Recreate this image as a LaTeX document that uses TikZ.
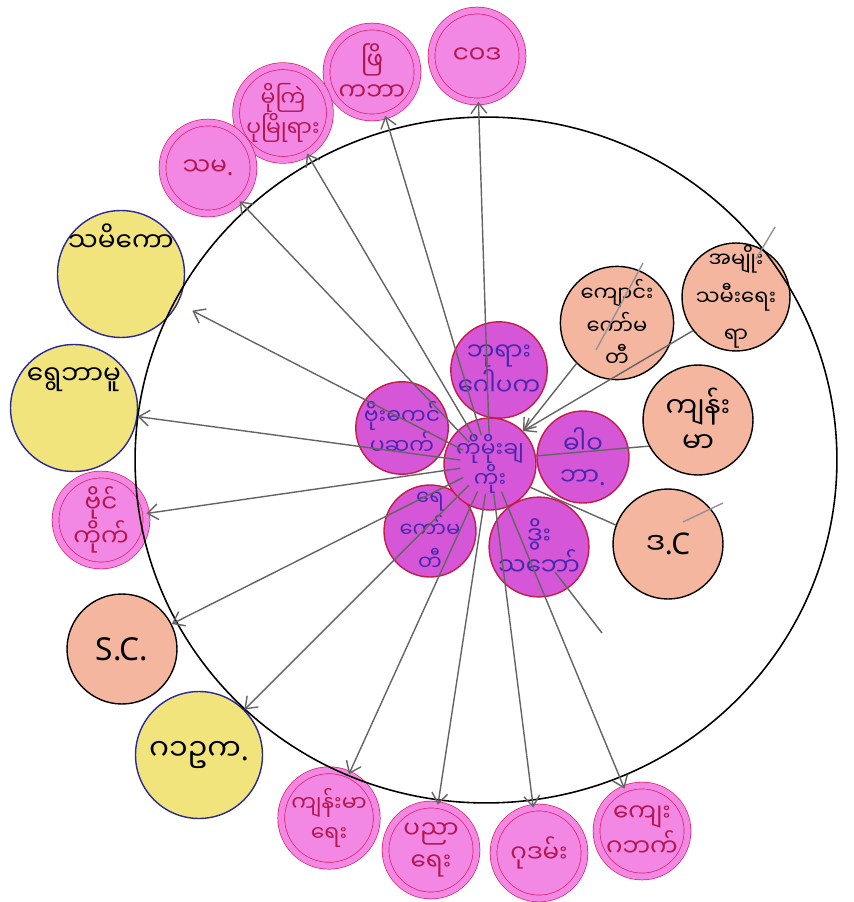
\documentclass[tikz,border=0pt]{standalone}
\usepackage{fontspec}
\newfontfamily\mmfont[Script=Myanmar]{Noto Sans Myanmar UI}
\newfontfamily\latinfont{Noto Sans}
\usetikzlibrary{arrows.meta}

\definecolor{pinkfill}{RGB}{243,135,228}
\definecolor{pinkline}{RGB}{222,30,100}
\definecolor{petalfill}{RGB}{214,86,216}
\definecolor{petalline}{RGB}{196,28,70}
\definecolor{petaltext}{RGB}{72,40,175}
\definecolor{salmon}{RGB}{244,182,158}
\definecolor{yellowfill}{RGB}{241,228,125}
\definecolor{penblue}{RGB}{40,40,150}
\definecolor{lead}{RGB}{100,100,100}

\newcommand{\lt}[1]{{\latinfont #1}}
\newcommand{\threeline}{\fontsize{12}{18.5}\selectfont}
\newcommand{\narrow}{\fontsize{12.5}{17}\selectfont}

\begin{document}
\begin{tikzpicture}[x=0.02cm,y=-0.02cm,
    every node/.style={font=\mmfont\fontsize{14}{18}\selectfont, align=center, inner sep=0pt},
    outring/.style={circle, minimum size=1.82cm, fill=pinkfill, draw=pinkline, double=pinkfill, double distance=3.5pt, text=pinkline!80!black},
    petal/.style={circle, minimum size=1.84cm, fill=petalfill, draw=petalline, thick, text=petaltext},
    localorg/.style={circle, minimum size=2.2cm, fill=salmon, draw=black, thick},
    yellownode/.style={circle, minimum size=2.54cm, fill=yellowfill, draw=penblue, thick},
    link/.style={lead, line width=0.8pt},
    spoke/.style={link, ->, shorten <=0.6cm},
    >={Straight Barb[length=6pt,width=9pt]}]
    \useasboundingbox (0,0) rectangle (854,902);

    % middle cluster
    \node[petal] (top) at (499,370) {ဘုရား\\ဂေါပက};
    \node[petal, font=\mmfont\narrow] (left) at (402,428) {ဗိုးဓကင်\\ပဆက်};
    \node[petal] (right) at (583,457) {ဓါဝ\\ဘာ\lt{.}};
    \node[petal, font=\mmfont\threeline, inner sep=-3pt] (lowl) at (430,531) {ရေ\\ကော်မ\\တီ};
    \node[petal] (lowr) at (539,547) {ဒွိး\\သဘော်};
    \node[petal, font=\mmfont\narrow] (hub) at (490,464) {ကိုမိုးချ\\ကိုး};

    % inside the ring
    \node[localorg, font=\mmfont\threeline] (school) at (617,323) {ကျောင်း\\ကော်မ\\တီ};
    \node[localorg, font=\mmfont\fontsize{12}{21.5}\selectfont, minimum size=2.16cm, inner sep=-5pt] (women) at (736,297) {အမျိုး\\သမီးရေး\\ရာ};
    \node[localorg, font=\mmfont\fontsize{16}{20}\selectfont] (health) at (698,420) {ကျန်း\\မာ};
    \node[localorg, font=\mmfont\fontsize{17}{20}\selectfont] (dc) at (668,544) {ဒ\lt{.C}};

    % outside the ring
    \node[outring] (o1) at (477,56) {ငဝဒ};
    \node[outring] (o2) at (372,72) {ဖြိ\\ကဘာ};
    \node[outring, font=\mmfont\narrow] (o3) at (283,113) {မိုကြဲ\\ပုမြိုရား};
    \node[outring] (o4) at (208,168) {သမ\lt{.}};
    \node[yellownode, label={[label distance=-0.84cm, font=\mmfont\fontsize{15}{18}\selectfont]90:{သမိကော}}] (y1) at (121,274) {};
    \node[yellownode, label={[label distance=-0.96cm, font=\mmfont\fontsize{15}{18}\selectfont]90:{ရွေဘာမူ}}] (y2) at (74,408) {};
    \node[outring] (o5) at (101,520) {ဗိုင်\\ကိုက်};
    \node[localorg, font=\latinfont\fontsize{18}{20}\selectfont] (sc) at (122,649) {S.C.};
    \node[yellownode, font=\mmfont\fontsize{17}{20}\selectfont] (y3) at (199,755) {ဂ၁ဥက\lt{.}};
    \node[outring, font=\mmfont\narrow] (b1) at (329,818) {ကျန်းမာ\\ရေး};
    \node[outring] (b2) at (431,850) {ပညာ\\ရေး};
    \node[outring] (b3) at (539,853) {ဂုဒမ်း};
    \node[outring] (b4) at (642,831) {ကျေး\\ဂဘက်};

    \draw[line width=0.9pt] (486,460) ellipse [x radius=7.02cm, y radius=6.86cm];

    % spokes
    \foreach \n in {o1,o2,o3,o4,y2,o5,sc,y3,b1,b2,b3,b4}
        \draw[spoke] (hub.center) -- (\n);
    \draw[spoke, shorten >=0.32cm] (hub.center) -- (y1);

    \draw[link,->] (school.225) -- (hub.45);
    \draw[link,->] (women.218) -- (hub.45);
    \draw[link] (hub.10) -- (health.208);
    \draw[link] (hub.330) -- (dc.160);

    % loose strokes
    \coordinate (s1) at (643,263);
    \coordinate (s2) at (596,350);
    \coordinate (w1) at (775,227);
    \coordinate (w2) at (756,259);
    \coordinate (d1) at (723,503);
    \coordinate (d2) at (683,522);
    \coordinate (r1) at (555,572);
    \coordinate (r2) at (602,633);
    \draw[link, lead!70] (s1) -- (s2);
    \draw[link, lead!70] (w1) -- (w2);
    \draw[link, lead!70] (d1) -- (d2);
    \draw[link] (r1) -- (r2);
\end{tikzpicture}
\end{document}
